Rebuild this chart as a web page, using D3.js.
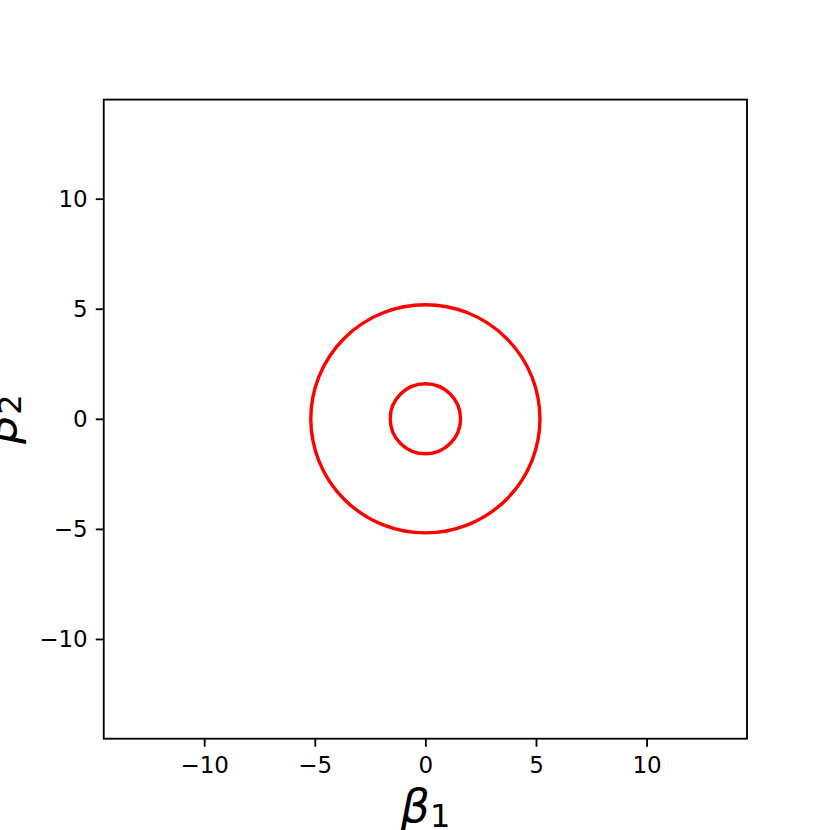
<!DOCTYPE html>
<meta charset="utf-8">
<style>
body { margin: 0; background: #fff; }
text { font-family: "DejaVu Sans", sans-serif; }
</style>
<body>
<script src="https://d3js.org/d3.v7.min.js"></script>
<script>

// contour levels drawn as circles around the origin
var centersX = [0, 0];
var centersY = [0, 0];
var radii = [1.59, 5.18];

var xTicks = [-10, -5, 0, 5, 10];
var yTicks = [-10, -5, 0, 5, 10];

var W = 830, H = 830;
var margin = {left: 103.75, right: 83, top: 99.6, bottom: 91.3};

var x = d3.scaleLinear()
    .domain([-14.54, 14.54])
    .range([margin.left, W - margin.right]);
var y = d3.scaleLinear()
    .domain([-14.53, 14.5])
    .range([H - margin.bottom, margin.top]);

var svg = d3.select("body").append("svg")
    .attr("width", W)
    .attr("height", H);

// contours
svg.append("g").selectAll("ellipse")
    .data(radii)
  .enter().append("ellipse")
    .attr("cx", function(d, i) { return x(centersX[i]); })
    .attr("cy", function(d, i) { return y(centersY[i]); })
    .attr("rx", function(d) { return x(d) - x(0); })
    .attr("ry", function(d) { return y(0) - y(d); })
    .attr("fill", "none")
    .attr("stroke", "#ff0000")
    .attr("stroke-width", 3.4);

var fmt = function(d) { return d < 0 ? "\u2212" + Math.abs(d) : "" + d; };

// x axis
var gx = svg.append("g")
    .attr("transform", "translate(0," + (H - margin.bottom) + ")")
    .call(d3.axisBottom(x).tickValues(xTicks).tickFormat(fmt).tickSize(8).tickPadding(8));

// y axis
var gy = svg.append("g")
    .attr("transform", "translate(" + margin.left + ",0)")
    .call(d3.axisLeft(y).tickValues(yTicks).tickFormat(fmt).tickSize(8).tickPadding(8));

[gx, gy].forEach(function(g) {
  g.select(".domain").remove();
  g.selectAll(".tick line").attr("stroke", "#000").attr("stroke-width", 1.84);
  g.selectAll(".tick text")
    .attr("fill", "#000")
    .style("font-size", "23px")
    .style("font-family", "DejaVu Sans");
});
gx.selectAll(".tick text").attr("dy", "0.78em");

// frame
svg.append("rect")
    .attr("x", margin.left)
    .attr("y", margin.top)
    .attr("width", W - margin.left - margin.right)
    .attr("height", H - margin.top - margin.bottom)
    .attr("fill", "none")
    .attr("stroke", "#000")
    .attr("stroke-width", 1.84);

// axis labels
function label(t, sub) {
  t.append("tspan").style("font-style", "italic").text("\u03b2");
  t.append("tspan").attr("font-size", "32px").attr("dy", 5).text(sub);
}

var xl = svg.append("text")
    .attr("x", (margin.left + W - margin.right) / 2)
    .attr("y", 822)
    .attr("text-anchor", "middle")
    .attr("font-size", "46px");
label(xl, "1");

var yl = svg.append("text")
    .attr("transform", "translate(16," + (margin.top + H - margin.bottom) / 2 + ") rotate(-90)")
    .attr("text-anchor", "middle")
    .attr("font-size", "46px");
label(yl, "2");

</script>
</body>
